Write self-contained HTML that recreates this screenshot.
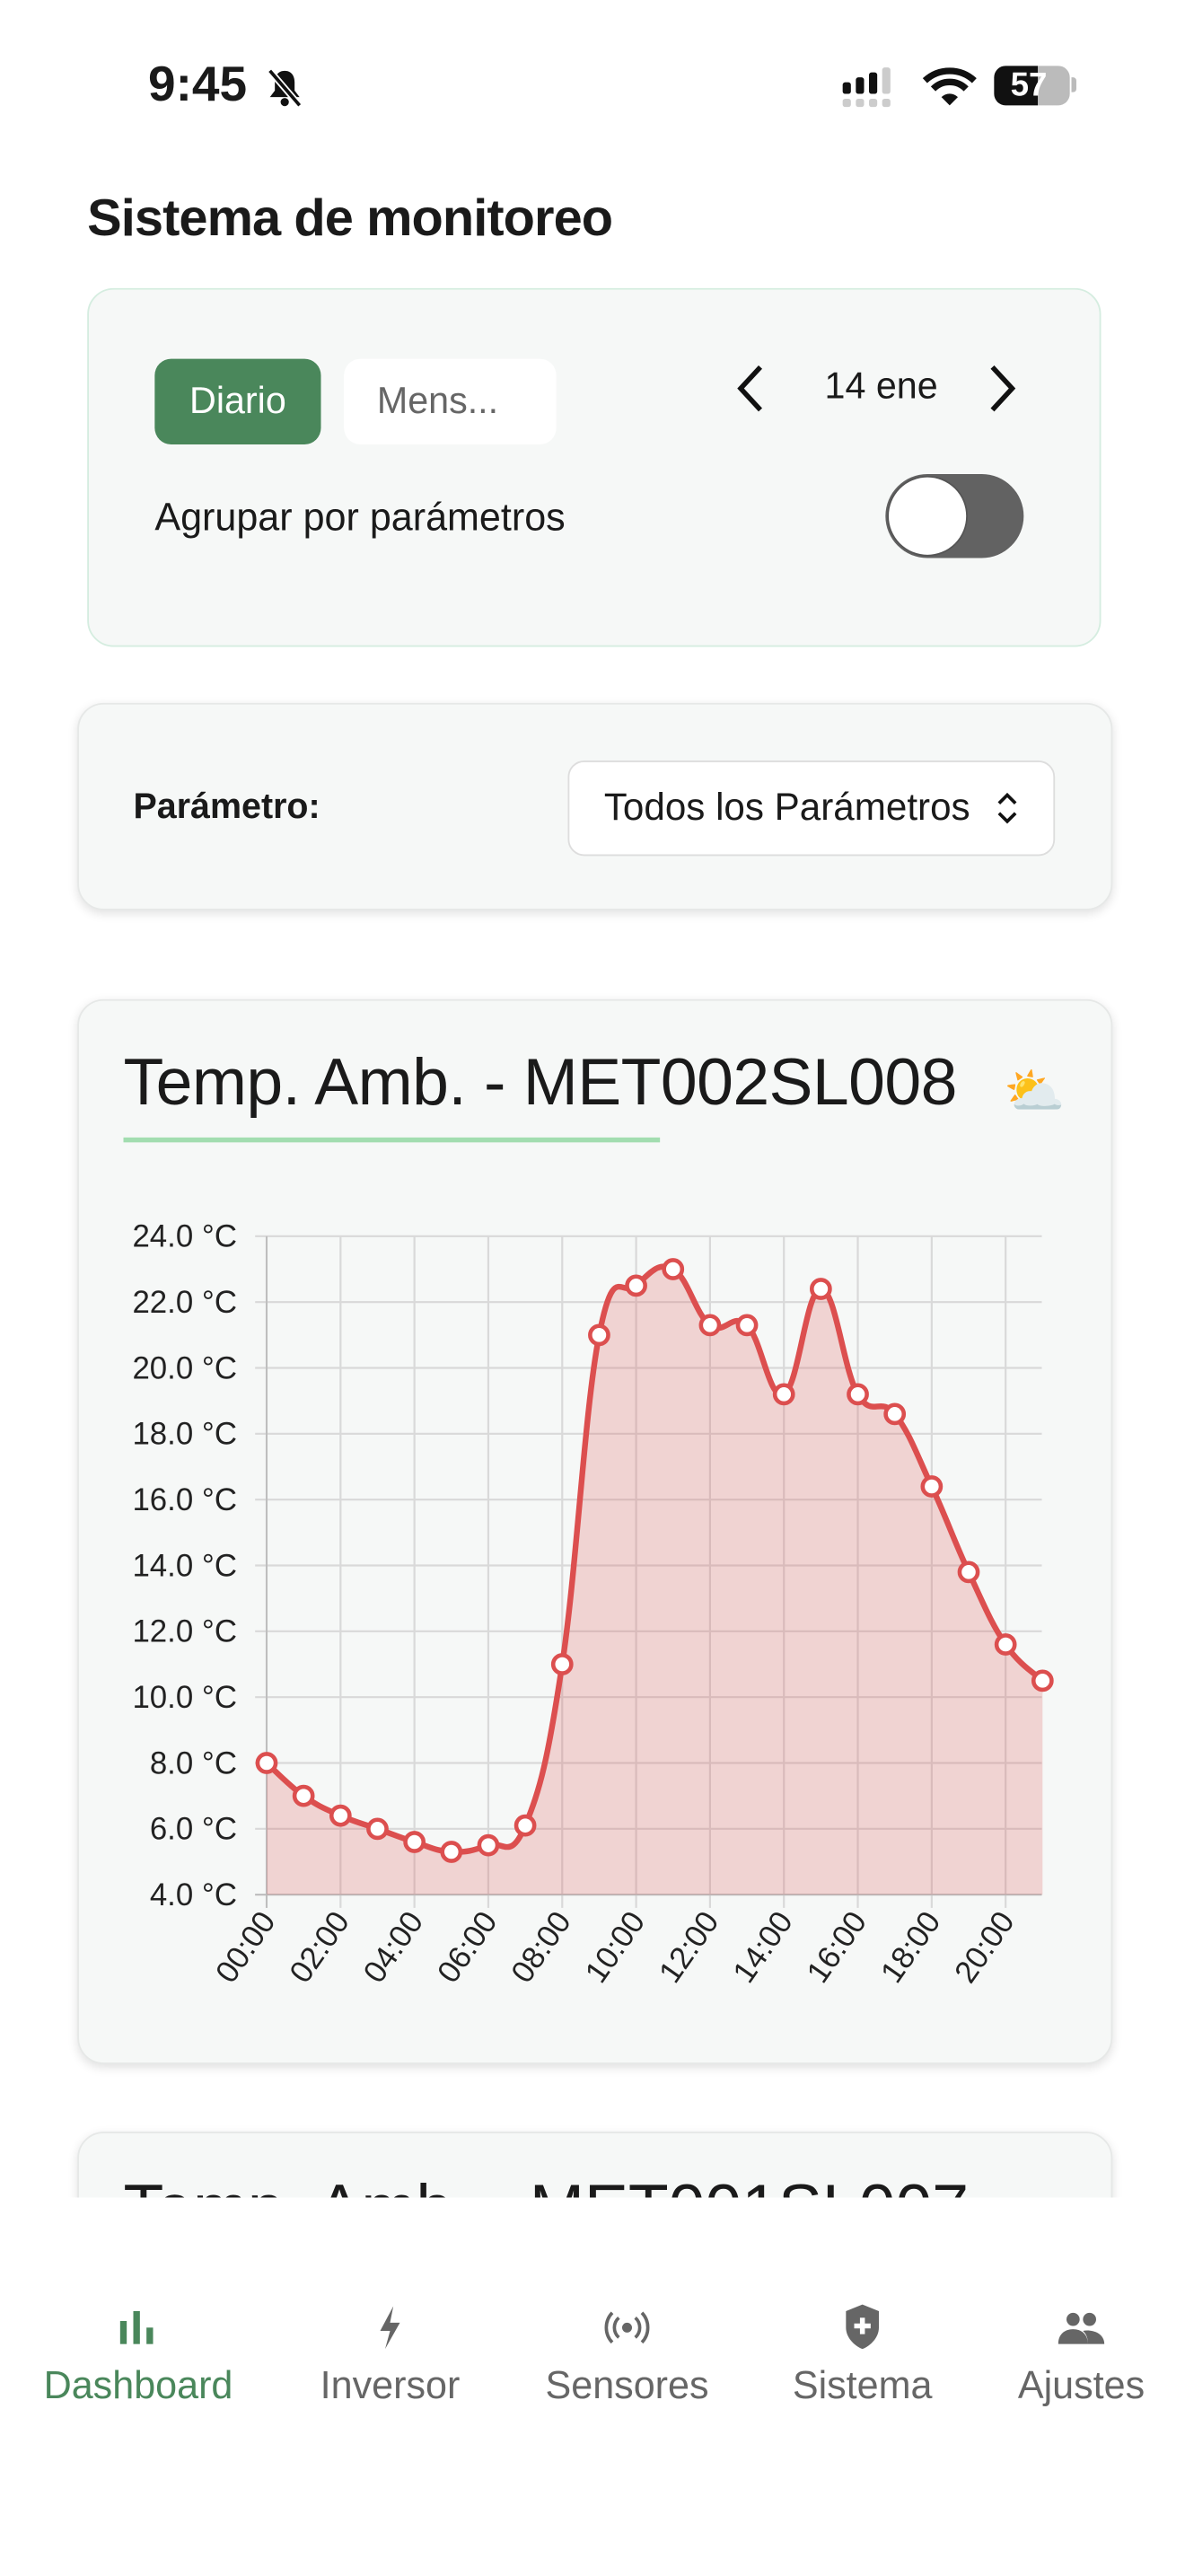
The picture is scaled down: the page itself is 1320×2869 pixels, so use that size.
<!DOCTYPE html>
<html><head><meta charset="utf-8">
<style>
html,body{margin:0;padding:0;width:1320px;height:2868px;overflow:hidden;background:#fff;}
#w{position:absolute;left:0;top:0;width:720px;height:1565px;transform:scale(1.83333);transform-origin:0 0;font-family:"Liberation Sans",sans-serif;color:#1a1a1a;}
.a{position:absolute;}
.card{position:absolute;background:#f6f8f7;border-radius:16px;}
.sh{box-shadow:0 2px 6px rgba(0,0,0,0.12);border:1px solid #e6e8e7;}
</style></head><body>
<div id="w">
<div class="a" style="left:90px;top:35px;font-size:30px;font-weight:bold;">9:45</div>
<svg class="a" style="left:160px;top:40px" width="26" height="26" viewBox="0 0 26 26"><path d="M13 3c-4 0-6 3-6 7v5l-3 4h18l-3-4v-5c0-4-2-7-6-7z" fill="#111"/><circle cx="13" cy="22" r="2.5" fill="#111"/><line x1="4" y1="3" x2="22" y2="24" stroke="#fff" stroke-width="4"/><line x1="4" y1="3" x2="22" y2="24" stroke="#111" stroke-width="2"/></svg>
<svg class="a" style="left:511px;top:40px" width="40" height="26"><rect x="1" y="10" width="5" height="7" rx="1.5" fill="#111"/><rect x="9" y="7" width="5" height="10" rx="1.5" fill="#111"/><rect x="17" y="4" width="5" height="13" rx="1.5" fill="#111"/><rect x="25" y="1" width="5" height="16" rx="1.5" fill="#ccc"/><g fill="#ccc"><rect x="1" y="20" width="5" height="5" rx="1.5"/><rect x="9" y="20" width="5" height="5" rx="1.5"/><rect x="17" y="20" width="5" height="5" rx="1.5"/><rect x="25" y="20" width="5" height="5" rx="1.5"/></g></svg>
<svg class="a" style="left:560px;top:40px" width="34" height="26" viewBox="0 0 34 26"><path d="M2 9a22 22 0 0 1 30 0" stroke="#111" stroke-width="4" fill="none"/><path d="M7 14a14 14 0 0 1 20 0" stroke="#111" stroke-width="4" fill="none"/><path d="M17 24l-5-5a7 7 0 0 1 10 0z" fill="#111"/></svg>
<div class="a" style="left:604px;top:40px;width:46px;height:24px;border-radius:7px;background:linear-gradient(90deg,#111 0 58%,#bbb 58%);color:#fff;font-weight:bold;font-size:20px;line-height:24px;text-indent:10px;">57</div>
<div class="a" style="left:651px;top:47px;width:3px;height:9px;background:#bbb;border-radius:0 2px 2px 0"></div>

<div class="a" style="left:53px;top:114px;font-size:31.5px;font-weight:bold;letter-spacing:-0.5px;">Sistema de monitoreo</div>

<div class="card" style="left:53px;top:175px;width:614px;height:216px;border:1px solid #d5ede0;"></div>
<div class="a" style="left:94px;top:218px;width:101px;height:52px;border-radius:10px;background:#4a875b;color:#fff;font-size:22.5px;line-height:52px;text-align:center;">Diario</div>
<div class="a" style="left:209px;top:218px;width:129px;height:52px;border-radius:10px;background:#fff;color:#666;font-size:22.5px;line-height:52px;text-indent:20px;">Mens...</div>
<svg class="a" style="left:444px;top:220px" width="24" height="32"><path d="M18 3L6 16l12 13" stroke="#111" stroke-width="3" fill="none"/></svg>
<div class="a" style="left:501px;top:222px;font-size:22.5px;">14 ene</div>
<svg class="a" style="left:597px;top:220px" width="24" height="32"><path d="M6 3l12 13L6 29" stroke="#111" stroke-width="3" fill="none"/></svg>
<div class="a" style="left:94px;top:301px;font-size:23.5px;">Agrupar por parámetros</div>
<div class="a" style="left:538px;top:288px;width:84px;height:51px;border-radius:26px;background:#626262;"></div>
<div class="a" style="left:539px;top:289px;width:47px;height:47px;border-radius:50%;background:#fff;border:1px solid #555;"></div>

<div class="card sh" style="left:47px;top:427px;width:627px;height:124px;"></div>
<div class="a" style="left:81px;top:478px;font-size:21.5px;font-weight:bold;">Parámetro:</div>
<div class="a" style="left:345px;top:462px;width:294px;height:56px;border-radius:10px;background:#fff;border:1px solid #ddd;"></div>
<div class="a" style="left:367px;top:477px;font-size:23px;">Todos los Parámetros</div>
<svg class="a" style="left:604px;top:480px" width="16" height="22"><path d="M3 8l5-5 5 5M3 14l5 5 5-5" stroke="#111" stroke-width="2" fill="none"/></svg>

<div class="card sh" style="left:47px;top:607px;width:627px;height:645px;"></div>
<div class="a" style="left:75px;top:636px;font-size:40px;letter-spacing:-0.3px;">Temp. Amb. - MET002SL008</div>
<div class="a" style="left:610px;top:646px;font-size:30px;">⛅</div>
<div class="a" style="left:75px;top:691px;width:326px;height:3px;background:#a2ddb0;"></div>
<svg id="ch" class="a" style="left:0;top:700px" width="720" height="560"></svg>

<div class="card sh" style="left:47px;top:1295px;width:627px;height:200px;"></div>
<div class="a" style="left:75px;top:1320px;font-size:40px;">Temp. Amb. - MET001SL007</div>
<div class="a" style="left:0;top:1335px;width:720px;height:230px;background:#fff;"></div>

<svg class="a" style="left:72px;top:1402px" width="24" height="24"><rect x="1" y="8" width="4" height="14" fill="#4a875b"/><rect x="9" y="2" width="4" height="20" fill="#4a875b"/><rect x="17" y="12" width="4" height="10" fill="#4a875b"/></svg>
<svg class="a" style="left:227px;top:1400px" width="20" height="28"><path d="M12 1L4 16h6l-3 11 9-16h-6z" fill="#666"/></svg>
<svg class="a" style="left:366px;top:1402px" width="30" height="24"><circle cx="15" cy="12" r="3" fill="#666"/><path d="M10 6a8 8 0 0 0 0 12M20 6a8 8 0 0 1 0 12M6 3a13 13 0 0 0 0 18M24 3a13 13 0 0 1 0 18" stroke="#666" stroke-width="2" fill="none"/></svg>
<svg class="a" style="left:512px;top:1399px" width="24" height="30"><path d="M12 1l10 4v10c0 6-5 11-10 13C7 26 2 21 2 15V5z" fill="#666"/><path d="M12 9v10M7 14h10" stroke="#fff" stroke-width="3"/></svg>
<svg class="a" style="left:641px;top:1402px" width="32" height="24"><circle cx="11" cy="7" r="4" fill="#666"/><circle cx="21" cy="7" r="4" fill="#666"/><path d="M2 22c0-6 4-9 9-9s9 3 9 9zM20 22c0-4-1-6-3-8 5-1 13 1 13 8z" fill="#666"/></svg>
<div class="a" style="left:0;top:1436px;width:168px;text-align:center;font-size:23.5px;color:#4a875b;">Dashboard</div>
<div class="a" style="left:167px;top:1436px;width:140px;text-align:center;font-size:23.5px;color:#666;">Inversor</div>
<div class="a" style="left:311px;top:1436px;width:140px;text-align:center;font-size:23.5px;color:#666;">Sensores</div>
<div class="a" style="left:454px;top:1436px;width:140px;text-align:center;font-size:23.5px;color:#666;">Sistema</div>
<div class="a" style="left:590px;top:1436px;width:134px;text-align:center;font-size:23.5px;color:#666;">Ajustes</div>
</div>
<script>
(function(){
var s=document.getElementById('ch'),oy=700,h='';
var X=function(i){return 162+i*22.45;},Y=function(v){return 751+(24-v)*20-oy;};
for(var v=4;v<=24;v+=2){var y=Y(v);h+='<line x1="155" y1="'+y+'" x2="633" y2="'+y+'" stroke="#d9d9d9" stroke-width="1.2"/>';
h+='<text x="144" y="'+(y+6.5)+'" text-anchor="end" font-size="19" font-family="Liberation Sans" fill="#222">'+v.toFixed(1)+' °C</text>';}
for(var i=0;i<=20;i+=2){var x=X(i);h+='<line x1="'+x+'" y1="'+Y(24)+'" x2="'+x+'" y2="'+(Y(4)+8)+'" stroke="#d9d9d9" stroke-width="1.2"/>';
h+='<text transform="translate('+(x+6)+','+(Y(4)+16)+') rotate(-55)" text-anchor="end" font-size="19" font-family="Liberation Sans" fill="#222">'+(i<10?'0':'')+i+':00</text>';}
h+='<line x1="162" y1="'+Y(24)+'" x2="162" y2="'+(Y(4)+8)+'" stroke="#bbb"/><line x1="155" y1="'+Y(4)+'" x2="633" y2="'+Y(4)+'" stroke="#bbb"/>';
var d=[8,7,6.4,6.0,5.6,5.3,5.5,6.1,11,21,22.5,23,21.3,21.3,19.2,22.4,19.2,18.6,16.4,13.8,11.6,10.5];
var p=d.map(function(v,i){return [X(i),Y(v)];}),t=0.4,path='M'+p[0][0]+','+p[0][1];
for(var i=0;i<p.length-1;i++){var p0=p[i>0?i-1:i],p1=p[i],p2=p[i+1],p3=p[i+2<p.length?i+2:i+1];
var c1x=p1[0]+(p2[0]-p0[0])*t/2,c1y=p1[1]+(p2[1]-p0[1])*t/2,c2x=p2[0]-(p3[0]-p1[0])*t/2,c2y=p2[1]-(p3[1]-p1[1])*t/2;
path+=' C'+c1x+','+c1y+' '+c2x+','+c2y+' '+p2[0]+','+p2[1];}
h+='<path d="'+path+' L'+p[p.length-1][0]+','+Y(4)+' L'+p[0][0]+','+Y(4)+'Z" fill="rgba(220,80,80,0.22)"/>';
h+='<path d="'+path+'" fill="none" stroke="#dc4f4f" stroke-width="3.5"/>';
p.forEach(function(q){h+='<circle cx="'+q[0]+'" cy="'+q[1]+'" r="5.5" fill="#fff" stroke="#dc4f4f" stroke-width="2.5"/>';});
s.innerHTML=h;})();
</script>
</body></html>
